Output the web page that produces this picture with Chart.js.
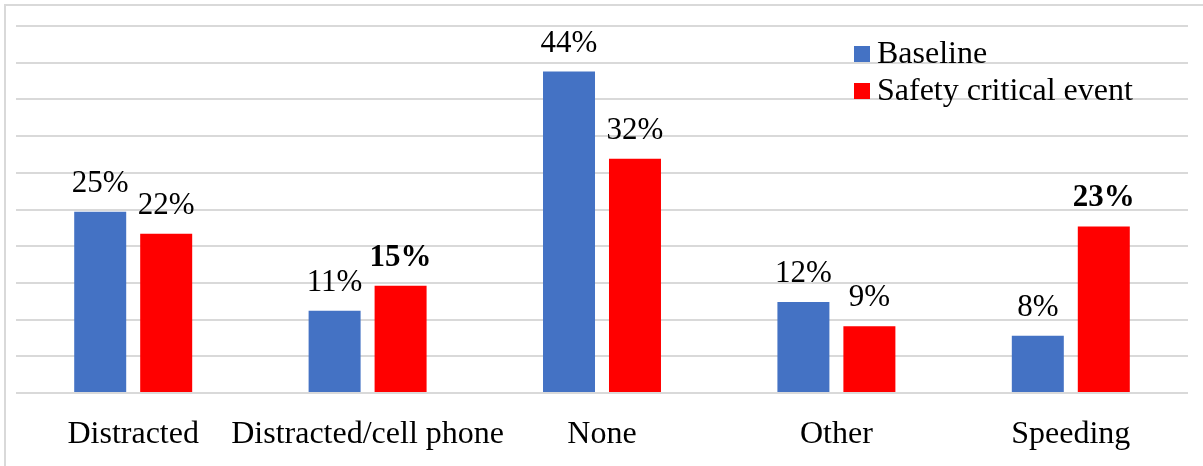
<!DOCTYPE html>
<html>
<head>
<meta charset="utf-8">
<script src="https://cdn.jsdelivr.net/npm/chart.js@4/dist/chart.umd.min.js"></script>
<style>
  html, body { margin: 0; padding: 0; background: #fff; overflow: hidden; }
  #frame { position: absolute; left: 4px; top: 4px; width: 1300px; height: 600px; border: 2px solid #d9d9d9; }
  #wrap { position: absolute; left: 0; top: 0; width: 1203px; height: 466px; }
</style>
</head>
<body>
<div id="frame"></div>
<div id="wrap"><canvas id="c"></canvas></div>
<script>
const categories = ['Distracted', 'Distracted/cell phone', 'None', 'Other', 'Speeding'];
const baseline = [24.7, 11.2, 43.8, 12.4, 7.8];
const safetyCritical = [21.7, 14.6, 31.9, 9.1, 22.7];
const baselineBold = [false, false, false, false, false];
const safetyBold = [false, true, false, false, true];
const yTicks = [0, 5, 10, 15, 20, 25, 30, 35, 40, 45, 50];

const FAMILY = '"Liberation Serif", "Times New Roman", serif';
const GRID_COLOR = '#d9d9d9';
const boldFlags = [baselineBold, safetyBold];

// value labels above each bar
const valueLabels = {
  id: 'valueLabels',
  afterDatasetsDraw(chart) {
    const ctx = chart.ctx;
    ctx.save();
    ctx.fillStyle = '#000';
    ctx.textAlign = 'center';
    ctx.textBaseline = 'alphabetic';
    chart.data.datasets.forEach((ds, di) => {
      chart.getDatasetMeta(di).data.forEach((bar, i) => {
        const bold = boldFlags[di][i];
        ctx.font = (bold ? 'bold ' : '') + '31px ' + FAMILY;
        ctx.fillText(Math.round(ds.data[i]) + '%', bar.x, bar.y - 20);
      });
    });
    ctx.restore();
  },
};

// legend drawn inside the plot, top right
const cornerLegend = {
  id: 'cornerLegend',
  afterDraw(chart) {
    const ctx = chart.ctx;
    ctx.save();
    ctx.font = '32px ' + FAMILY;
    ctx.textBaseline = 'middle';
    ctx.textAlign = 'left';
    chart.data.datasets.forEach((ds, i) => {
      const y = 54 + i * 37;
      ctx.fillStyle = ds.backgroundColor;
      ctx.fillRect(854, y - 8, 16, 16);
      ctx.fillStyle = '#000';
      ctx.fillText(ds.label, 877, y + 1);
    });
    ctx.restore();
  },
};

new Chart(document.getElementById('c').getContext('2d'), {
  type: 'bar',
  data: {
    labels: categories,
    datasets: [
      {
        label: 'Baseline',
        data: baseline,
        backgroundColor: '#4472C4',
        categoryPercentage: 0.563,
        barPercentage: 0.788,
      },
      {
        label: 'Safety critical event',
        data: safetyCritical,
        backgroundColor: '#FF0000',
        categoryPercentage: 0.563,
        barPercentage: 0.788,
      },
    ],
  },
  options: {
    responsive: true,
    maintainAspectRatio: false,
    animation: false,
    layout: { padding: { left: 16, right: 15, top: 26, bottom: 0 } },
    plugins: {
      legend: { display: false },
      tooltip: { enabled: false },
    },
    scales: {
      x: {
        grid: { display: false, drawTicks: false },
        border: { display: false },
        ticks: { color: '#000', font: { family: FAMILY, size: 32 }, padding: 22, maxRotation: 0, autoSkip: false },
        afterFit: (s) => { s.height = 73; },
      },
      y: {
        min: 0,
        max: 50,
        afterBuildTicks: (s) => { s.ticks = yTicks.map((v) => ({ value: v })); },
        ticks: { display: false },
        grid: { color: GRID_COLOR, lineWidth: 2, drawTicks: false },
        border: { display: false },
      },
    },
  },
  plugins: [valueLabels, cornerLegend],
});
</script>
</body>
</html>
